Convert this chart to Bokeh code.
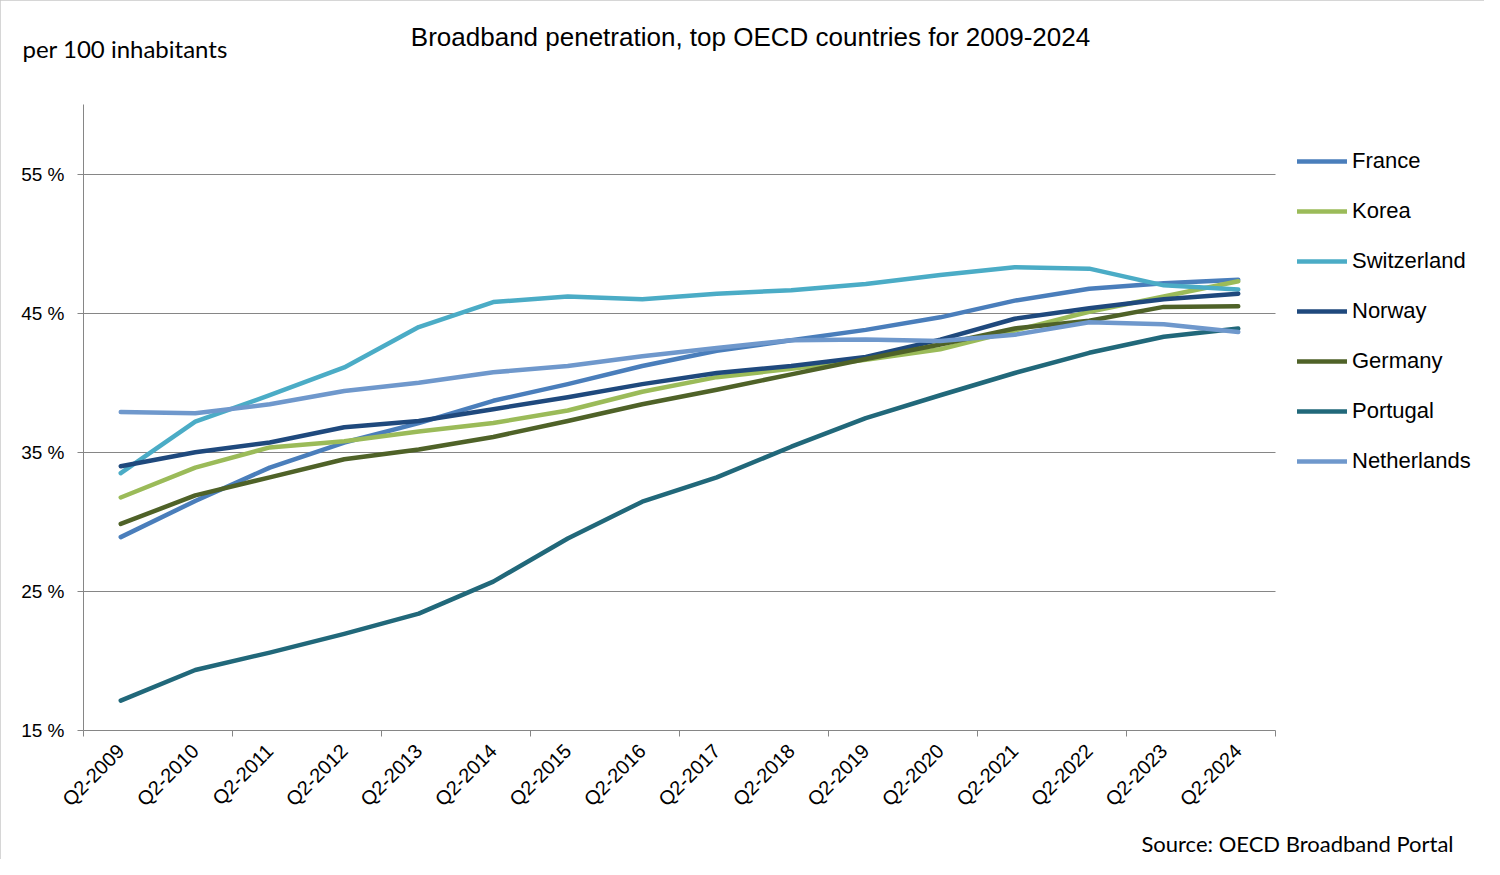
import math
from bokeh.plotting import figure
from bokeh.models import (Range1d, FixedTicker, PrintfTickFormatter, CustomJSTickFormatter,
                          Label, Legend, LegendItem)
from bokeh.embed import file_html
from bokeh.resources import INLINE

# ---------------- data ----------------
quarters = ["Q2-2009", "Q2-2010", "Q2-2011", "Q2-2012", "Q2-2013", "Q2-2014", "Q2-2015", "Q2-2016",
            "Q2-2017", "Q2-2018", "Q2-2019", "Q2-2020", "Q2-2021", "Q2-2022", "Q2-2023", "Q2-2024"]

france      = [28.9, 31.5, 33.9, 35.7, 37.1, 38.7, 39.9, 41.2, 42.3, 43.05, 43.8, 44.7, 45.9, 46.75, 47.15, 47.4]
korea       = [31.75, 33.9, 35.35, 35.8, 36.5, 37.1, 38.0, 39.35, 40.4, 41.0, 41.65, 42.4, 43.75, 45.1, 46.2, 47.3]
switzerland = [33.5, 37.2, 39.1, 41.1, 44.0, 45.8, 46.2, 46.0, 46.4, 46.65, 47.1, 47.75, 48.3, 48.2, 47.0, 46.7]
norway      = [34.0, 35.0, 35.7, 36.8, 37.25, 38.1, 38.95, 39.9, 40.7, 41.2, 41.85, 43.1, 44.6, 45.35, 46.0, 46.4]
germany     = [29.85, 31.9, 33.2, 34.5, 35.2, 36.1, 37.25, 38.45, 39.5, 40.6, 41.7, 42.75, 43.9, 44.45, 45.45, 45.5]
portugal    = [17.15, 19.35, 20.6, 21.95, 23.4, 25.7, 28.8, 31.45, 33.2, 35.4, 37.45, 39.1, 40.7, 42.15, 43.3, 43.9]
netherlands = [37.9, 37.8, 38.45, 39.4, 40.0, 40.75, 41.2, 41.9, 42.5, 43.05, 43.1, 43.0, 43.45, 44.35, 44.2, 43.65]

series_names = ["France", "Korea", "Switzerland", "Norway", "Germany", "Portugal", "Netherlands"]
series_values = [france, korea, switzerland, norway, germany, portugal, netherlands]
series_colors = ["#4A7EBB", "#9BBB59", "#4BACC6", "#1F497D", "#4F6228", "#21687A", "#6F98CC"]

y_ticks = [15, 25, 35, 45, 55]

# ---------------- figure ----------------
n = len(quarters)
xs = [i + 0.5 for i in range(n)]

W, H = 1484, 859
left, top, bottom, right = 83, 104, 129, 4
axis_px = 1192                       # pixel length of the real x axis (16 quarters)
x_end = n * (W - left - right) / axis_px   # frame extends to the right to hold the legend

p = figure(width=W, height=H, output_backend="svg", toolbar_location=None,
           x_range=Range1d(0, x_end), y_range=Range1d(15, 60),
           min_border_left=left, min_border_right=right, min_border_top=top, min_border_bottom=bottom,
           background_fill_color="white", border_fill_color="white",
           styles={"outline": "2px solid #c8c8c8", "outline-offset": "-2px"})
p.outline_line_color = None

axis_gray = "#868686"

# y axis
p.yaxis.ticker = FixedTicker(ticks=y_ticks)
p.yaxis.formatter = PrintfTickFormatter(format="%d %%")
p.yaxis.axis_line_color = axis_gray
p.yaxis.major_tick_line_color = axis_gray
p.yaxis.major_tick_out = 6
p.yaxis.major_tick_in = 0
p.yaxis.minor_tick_line_color = None
p.yaxis.major_label_text_font = "Liberation Sans"
p.yaxis.major_label_text_font_size = "19px"
p.yaxis.major_label_text_color = "#000000"
p.yaxis.major_label_standoff = 13

# x axis
p.xaxis.bounds = (0, n)
p.xaxis.ticker = FixedTicker(ticks=xs, minor_ticks=list(range(0, n + 1, 2)))
p.xaxis.formatter = CustomJSTickFormatter(args=dict(labels=quarters),
                                          code="return labels[Math.floor(tick)] || '';")
p.xaxis.axis_line_color = axis_gray
p.xaxis.major_tick_line_color = None
p.xaxis.major_tick_out = 0
p.xaxis.major_tick_in = 0
p.xaxis.minor_tick_line_color = axis_gray
p.xaxis.minor_tick_out = 6
p.xaxis.minor_tick_in = 0
p.xaxis.major_label_orientation = math.pi / 4
p.xaxis.major_label_text_font = "Liberation Sans"
p.xaxis.major_label_text_font_size = "20px"
p.xaxis.major_label_text_color = "#000000"
p.xaxis.major_label_standoff = 11

# grid
p.xgrid.visible = False
p.ygrid.ticker = FixedTicker(ticks=y_ticks)
p.ygrid.cross_bounds = (0, n)
p.ygrid.grid_line_color = axis_gray
p.ygrid.grid_line_width = 1

# lines
items = []
for name, vals, col in zip(series_names, series_values, series_colors):
    r = p.line(xs, vals, line_color=col, line_width=4.5, line_cap="round", line_join="round")
    items.append(LegendItem(label=name, renderers=[r]))

leg = Legend(items=items, location=(1214, 254), padding=0, margin=0, spacing=20,
             glyph_width=50, glyph_height=30, label_height=30, label_standoff=5,
             label_text_font="Liberation Sans", label_text_font_size="22px",
             label_text_color="#000000", border_line_alpha=0, background_fill_alpha=0)
p.add_layout(leg)

# texts (positions in data units: x 1 unit = one quarter, y in %)
p.add_layout(Label(x=8.953, y=64.84, text="Broadband penetration, top OECD countries for 2009-2024",
                   text_font="Liberation Sans", text_font_size="26px", text_align="center",
                   text_baseline="middle", text_color="#000000"), "above")
p.add_layout(Label(x=-0.819, y=64.05, text="per 100 inhabitants",
                   text_font="Lato", text_font_size="24px", text_align="left",
                   text_baseline="middle", text_color="#000000"), "above")
p.add_layout(Label(x=18.39, y=6.9, text="Source: OECD Broadband Portal",
                   text_font="Lato", text_font_size="22px", text_align="right",
                   text_baseline="middle", text_color="#000000"), "below")

open("out.html", "w").write(file_html(p, INLINE))
